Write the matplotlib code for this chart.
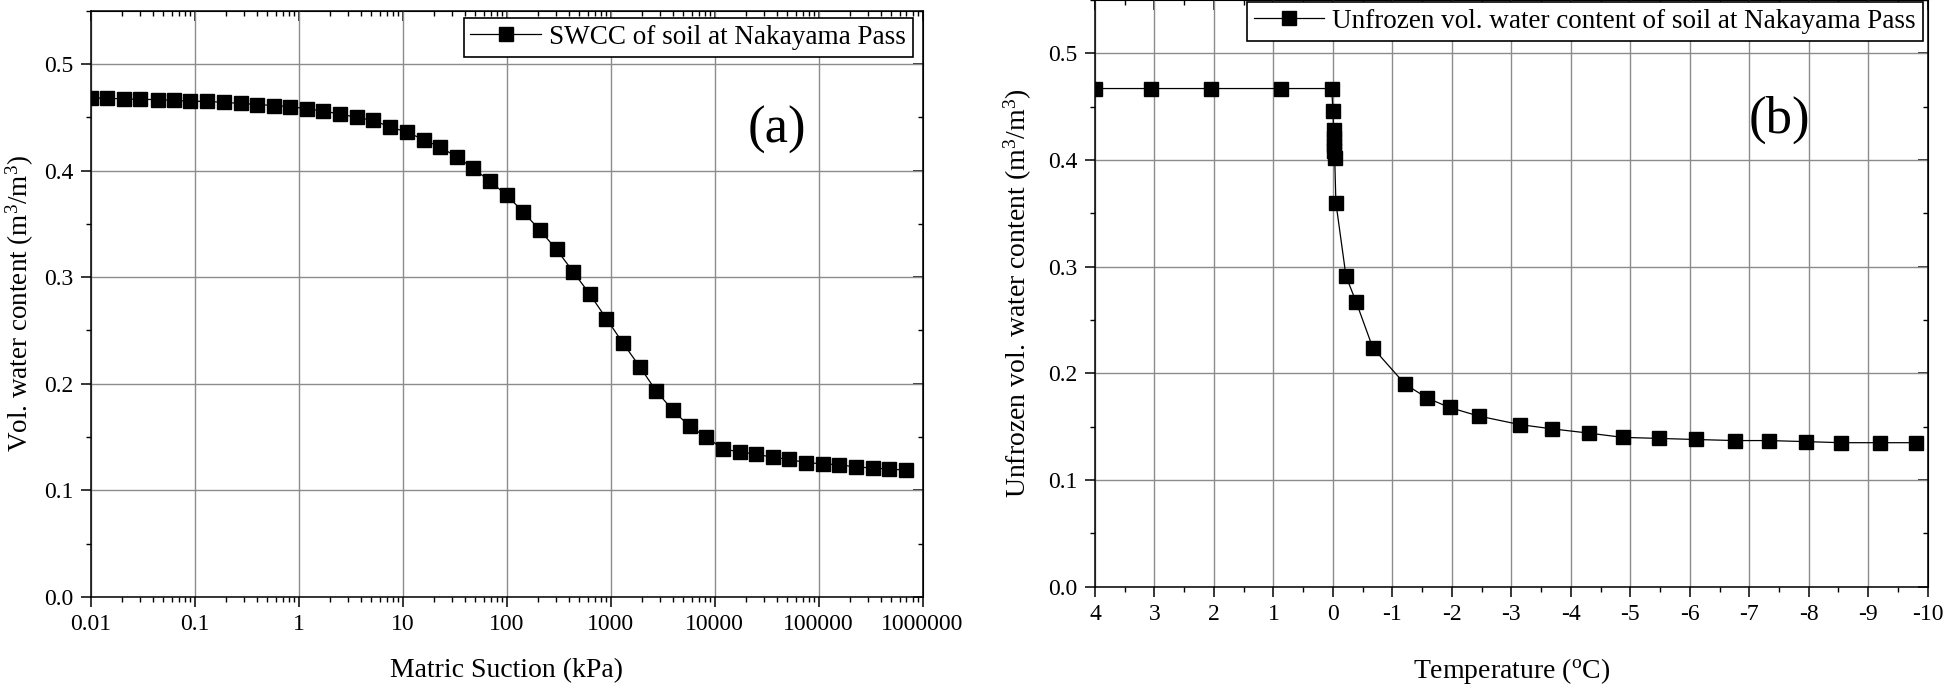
import numpy as np
import matplotlib
matplotlib.use("Agg")
import matplotlib.pyplot as plt
from matplotlib.ticker import FixedLocator, MultipleLocator, LogLocator, NullFormatter

plt.rcParams['font.family'] = ['Liberation Serif', 'DejaVu Serif']
plt.rcParams['mathtext.fontset'] = 'custom'
plt.rcParams['mathtext.rm'] = 'Liberation Serif'
plt.rcParams['mathtext.default'] = 'regular'
plt.rcParams['axes.unicode_minus'] = False

# data start here
# (a) soil water characteristic curve
suction = [0.01, 0.0145, 0.021, 0.030, 0.044, 0.063, 0.091, 0.13, 0.19, 0.28,
           0.40, 0.58, 0.83, 1.2, 1.7, 2.5, 3.6, 5.2, 7.6, 11,
           16, 23, 33, 48, 69, 100, 145, 209, 302, 437,
           631, 912, 1318, 1905, 2754, 3981, 5754, 8318, 12023, 17378,
           25119, 36308, 52481, 75858, 109648, 158489, 229087, 331131, 478630, 691831]
vwc = [0.468, 0.468, 0.467, 0.467, 0.4665, 0.466, 0.465, 0.465, 0.464, 0.463,
       0.462, 0.461, 0.460, 0.458, 0.456, 0.453, 0.450, 0.447, 0.441, 0.436,
       0.429, 0.422, 0.413, 0.402, 0.390, 0.377, 0.361, 0.344, 0.326, 0.305,
       0.284, 0.261, 0.238, 0.216, 0.193, 0.175, 0.160, 0.150, 0.139, 0.136,
       0.134, 0.131, 0.129, 0.126, 0.125, 0.124, 0.122, 0.121, 0.120, 0.119]
suction_ticks = [0.01, 0.1, 1, 10, 100, 1000, 10000, 100000, 1000000]
suction_labels = ['0.01', '0.1', '1', '10', '100', '1000', '10000', '100000', '1000000']

# (b) unfrozen water content vs temperature
temp = [4.0, 3.06, 2.05, 0.87, 0.02, 0.0, -0.01, -0.015, -0.02, -0.025, -0.03,
        -0.05, -0.22, -0.39, -0.67, -1.21, -1.58, -1.96, -2.45, -3.14, -3.68,
        -4.30, -4.87, -5.49, -6.10, -6.76, -7.33, -7.96, -8.54, -9.19, -9.80]
uwc = [0.467, 0.467, 0.467, 0.467, 0.467, 0.446, 0.428, 0.421, 0.414, 0.408, 0.402,
       0.360, 0.291, 0.267, 0.224, 0.190, 0.177, 0.168, 0.160, 0.152, 0.148,
       0.144, 0.140, 0.139, 0.138, 0.137, 0.137, 0.136, 0.135, 0.135, 0.135]
# data end here

fig = plt.figure(figsize=(19.46, 6.9), dpi=100)
ax1 = fig.add_axes([0.0466, 0.1348, 0.4275, 0.8497])
ax2 = fig.add_axes([0.5627, 0.1497, 0.4279, 0.8503])

FS = 17      # tick labels
LFS = 20     # axis labels
LEGFS = 19.5
grid_kw = dict(color='#8c8c8c', lw=1.0)


def style_axes(ax):
    for sp in ax.spines.values():
        sp.set_linewidth(1.1)
    ax.tick_params(which='major', direction='out', length=7.5, width=1.1,
                   labelsize=FS, pad=5)
    ax.tick_params(which='minor', direction='out', length=3.5, width=1.0)
    ax.grid(True, which='major', **grid_kw)
    ax.set_axisbelow(True)
    # mirrored ticks pointing inwards on top and right
    top = ax.secondary_xaxis('top')
    right = ax.secondary_yaxis('right')
    for sec in (top, right):
        sec.tick_params(which='major', direction='in', length=7.5, width=1.1)
        sec.tick_params(which='minor', direction='in', length=3.5, width=1.0)
    return top, right


def add_legend(ax, anchor):
    leg = ax.legend(loc='upper right', bbox_to_anchor=anchor,
                    fontsize=LEGFS, frameon=True, fancybox=False, framealpha=1,
                    edgecolor='k', borderpad=0.25, handletextpad=0.3,
                    handlelength=2.6, borderaxespad=0)
    leg.get_frame().set_linewidth(1.2)
    return leg


# ---- (a)
ax1.set_xscale('log')
ax1.plot(suction, vwc, color='k', lw=0.9, marker='s', ms=9.5,
         label='SWCC of soil at Nakayama Pass')
ax1.set_xlim(0.01, 1e6)
ax1.set_ylim(0, 0.55)
ax1.xaxis.set_major_locator(FixedLocator(suction_ticks))
ax1.set_xticklabels(suction_labels)
ax1.xaxis.set_minor_locator(LogLocator(base=10, subs=np.arange(2, 10)))
ax1.xaxis.set_minor_formatter(NullFormatter())
ax1.yaxis.set_major_locator(MultipleLocator(0.1))
ax1.yaxis.set_minor_locator(MultipleLocator(0.05))
ax1.yaxis.set_major_formatter(matplotlib.ticker.FormatStrFormatter('%.1f'))
top, right = style_axes(ax1)
top.xaxis.set_major_locator(FixedLocator(suction_ticks))
top.xaxis.set_minor_locator(LogLocator(base=10, subs=np.arange(2, 10)))
top.set_xticklabels([])
top.xaxis.set_minor_formatter(NullFormatter())
right.yaxis.set_major_locator(MultipleLocator(0.1))
right.yaxis.set_minor_locator(MultipleLocator(0.05))
right.set_yticklabels([])
ax1.set_xlabel('Matric Suction (kPa)', fontsize=LFS)
ax1.set_ylabel('Vol. water content (m$^3$/m$^3$)', fontsize=19.5)
ax1.xaxis.set_label_coords(0.5, -0.105)
ax1.yaxis.set_label_coords(-0.066, 0.5)
ax1.text(4.0e4, 0.438, '(a)', fontsize=38, ha='center', va='center')
add_legend(ax1, (0.988, 0.9875))

# ---- (b)
ax2.plot(temp, uwc, color='k', lw=0.9, marker='s', ms=9.5,
         label='Unfrozen vol. water content of soil at Nakayama Pass')
ax2.set_xlim(4, -10)
ax2.set_ylim(0, 0.55)
ax2.xaxis.set_major_locator(MultipleLocator(1))
ax2.xaxis.set_minor_locator(MultipleLocator(0.5))
ax2.yaxis.set_major_locator(MultipleLocator(0.1))
ax2.yaxis.set_minor_locator(MultipleLocator(0.05))
ax2.yaxis.set_major_formatter(matplotlib.ticker.FormatStrFormatter('%.1f'))
ax2.xaxis.set_major_formatter(matplotlib.ticker.FormatStrFormatter('%d'))
top2, right2 = style_axes(ax2)
top2.xaxis.set_major_locator(MultipleLocator(1))
top2.xaxis.set_minor_locator(MultipleLocator(0.5))
top2.set_xticklabels([])
right2.yaxis.set_major_locator(MultipleLocator(0.1))
right2.yaxis.set_minor_locator(MultipleLocator(0.05))
right2.set_yticklabels([])
ax2.set_xlabel('Temperature ($^{o}$C)', fontsize=LFS)
ax2.set_ylabel('Unfrozen vol. water content (m$^3$/m$^3$)', fontsize=LFS)
ax2.xaxis.set_label_coords(0.5, -0.118)
ax2.yaxis.set_label_coords(-0.073, 0.5)
ax2.text(-7.5, 0.438, '(b)', fontsize=38, ha='center', va='center')
add_legend(ax2, (0.994, 0.9966))

fig.savefig('out.png', dpi=100)
